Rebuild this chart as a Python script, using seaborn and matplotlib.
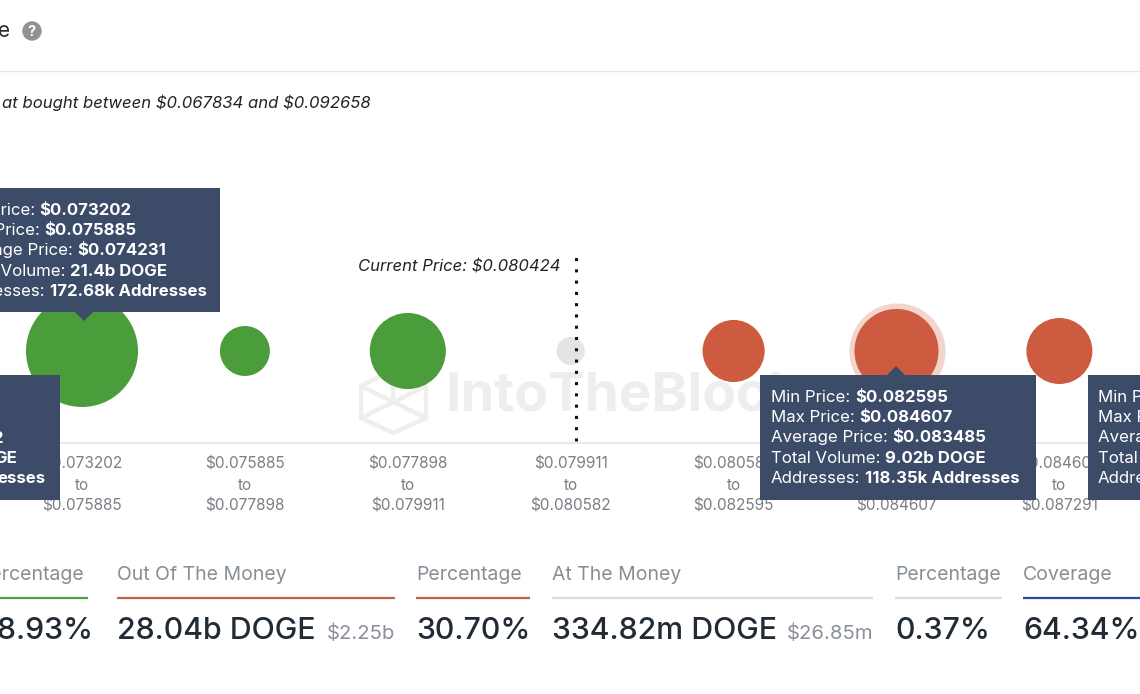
import matplotlib
matplotlib.use("Agg")
import matplotlib.pyplot as plt
import numpy as np
import pandas as pd
import seaborn as sns

# bins of the in/out of the money chart
bin_low = ["$0.073202", "$0.075885", "$0.077898", "$0.079911", "$0.080582", "$0.082595", "$0.084607"]
bin_high = ["$0.075885", "$0.077898", "$0.079911", "$0.080582", "$0.082595", "$0.084607", "$0.087291"]
volume_b = [21.4, 1.88, 6.68, 0.33, 3.62, 9.02, 4.35]
zone = ["in", "in", "in", "at", "out", "out", "out"]

tip_labels = ["Min Price:", "Max Price:", "Average Price:", "Total Volume:", "Addresses:"]
tip_left_values = ["$0.073202", "$0.075885", "$0.074231", "21.4b DOGE", "172.68k Addresses"]
tip_right_values = ["$0.082595", "$0.084607", "$0.083485", "9.02b DOGE", "118.35k Addresses"]
tip_cut_fragments = ["2", "GE", "esses"]

stat_titles = ["Percentage", "Out Of The Money", "Percentage", "At The Money", "Percentage", "Coverage"]
stat_values = ["68.93%", "28.04b DOGE", "30.70%", "334.82m DOGE", "0.37%", "64.34%"]
stat_usd = ["", "$2.25b", "", "$26.85m", "", ""]
stat_kind = ["in", "out", "out", "at", "at", "cov"]

colors = {"in": "#4a9d3a", "out": "#cd5b3f", "at": "#e4e4e4"}
rule_colors = {"in": "#4f9d45", "out": "#bf5f4c", "at": "#dcdcdc", "cov": "#2b45a8"}
TIP_BG = "#3b4b68"

sns.set_theme(style="white")
plt.rcParams["font.family"] = ["Inter", "DejaVu Sans"]
plt.rcParams["text.parse_math"] = False

fig = plt.figure(figsize=(11.4, 6.94), dpi=100)
W, H = 1140, 694

# watermark sits under the bubbles
bg = fig.add_axes([0, 0, 1, 1], zorder=0)
bg.set_xlim(0, W)
bg.set_ylim(H, 0)
bg.axis("off")
wm = "#eeeeee"
bg.text(445, 396, "IntoTheBlock", fontsize=39.5, weight="bold", color=wm, va="center", ha="left")
hex_x = np.array([393, 426, 426, 393, 361, 361, 393])
hex_y = np.array([370, 386, 418, 433, 418, 386, 370])
bg.plot(hex_x, hex_y, color=wm, lw=3.2)
bg.plot([361, 426], [386, 418], color=wm, lw=3.2)
bg.plot([361, 426], [418, 386], color=wm, lw=3.2)
bg.plot([393, 393], [370, 402], color=wm, lw=3.2)

# bubbles, on a bin index axis
ax = fig.add_axes([0, 1 - 443 / H, 1, 293 / H], zorder=1)
ax.patch.set_alpha(0)
df = pd.DataFrame({"bin": range(len(volume_b)), "volume": volume_b, "zone": zone})
# bubble radius grows with volume, in pixels
df["radius"] = 56 * (df["volume"] / 21.4) ** 0.332
df["area"] = (2 * df["radius"] * 0.72) ** 2

hover = df[df["volume"] == 9.02]
sns.scatterplot(data=hover, x="bin", y=0, color="#f3d5cd", s=(2 * 48 * 0.72) ** 2, linewidth=0, ax=ax, legend=False)
sns.scatterplot(data=df, x="bin", y=0, hue="zone", palette=colors, s=df["area"].values, linewidth=0, ax=ax,
                legend=False, zorder=3)

ax.set_xlim(-82 / 162.9, (W - 82) / 162.9)
ax.set_ylim(-92, 201)
ax.set_xticks(df["bin"])
ax.set_xticklabels([f"{a}\nto\n{b}" for a, b in zip(bin_low, bin_high)], color="#7a7f85", fontsize=11.1,
                   linespacing=1.48)
ax.tick_params(axis="x", length=0, pad=10)
ax.set_yticks([])
ax.set_xlabel("")
ax.set_ylabel("")
sns.despine(ax=ax, left=True)
ax.spines["bottom"].set_color("#dfe5ec")
ax.spines["bottom"].set_linewidth(1.2)

# current price marker
ax.plot([3.03, 3.03], [-90, 94], color="#111111", lw=2.2, ls=(0, (1, 2.69)), zorder=4)

# page furniture and tooltips in pixel coordinates
ov = fig.add_axes([0, 0, 1, 1], zorder=5)
ov.patch.set_alpha(0)
ov.set_xlim(0, W)
ov.set_ylim(H, 0)
ov.axis("off")

# header
ov.text(-2, 31, "e", fontsize=15, color="#212b36", va="center", ha="left")
ov.add_patch(plt.Circle((32, 31), 9.7, color="#929292", lw=0))
ov.text(32, 31.5, "?", fontsize=10.5, color="white", weight="bold", va="center", ha="center")
ov.plot([0, W], [70.5, 70.5], color="#e6e6e6", lw=1)
ov.text(371, 103, "at bought between $0.067834 and $0.092658", fontsize=12.0, style="italic", color="#222222",
        va="center", ha="right")
ov.text(560, 267, "Current Price: $0.080424", fontsize=12.0, style="italic", color="#222222", va="center", ha="right")

renderer = fig.canvas.get_renderer()


def tooltip(x0, x1, y0, y1, pointer_x, pointer_dir):
    ov.fill([x0, x1, x1, x0], [y0, y0, y1, y1], color=TIP_BG, lw=0, zorder=6)
    if pointer_dir == "down":
        ov.fill([pointer_x - 9, pointer_x + 9, pointer_x], [y1, y1, y1 + 9], color=TIP_BG, lw=0, zorder=6)
    elif pointer_dir == "up":
        ov.fill([pointer_x - 9, pointer_x + 9, pointer_x], [y0, y0, y0 - 9], color=TIP_BG, lw=0, zorder=6)


def tip_lines(x, y, labels, values):
    for i, (label, value) in enumerate(zip(labels, values)):
        yy = y + i * 20.4
        t = ov.text(x, yy, label, fontsize=12.1, color="white", va="center", ha="left", zorder=7)
        end = t.get_window_extent(renderer).x1
        ov.text(end + 4.5, yy, value, fontsize=12.1, color="white", weight="bold", va="center", ha="left", zorder=7)


tooltip(-55, 220, 188, 312, 84, "down")
tip_lines(-44, 210, tip_labels, tip_left_values)

tooltip(-220, 60, 375, 500, None, None)
for i, (frag, right) in enumerate(zip(tip_cut_fragments, [3, 17, 46])):
    ov.text(right, 438 + i * 20, frag, fontsize=12.1, color="white", weight="bold", va="center", ha="right", zorder=7)

tooltip(760, 1036, 375, 500, 896, "up")
tip_lines(771, 397, tip_labels, tip_right_values)

tooltip(1088, 1300, 375, 500, None, None)
tip_lines(1098, 397, tip_labels, [""] * 5)

# stats row
stat_x = [-22, 117, 416, 552, 895, 1023]
stat_end = [88, 395, 530, 873, 1002, 1140]
for title, value, usd, kind, x, end in zip(stat_titles, stat_values, stat_usd, stat_kind, stat_x, stat_end):
    ov.text(x, 575, title, fontsize=14, color="#868e96", va="center", ha="left")
    ov.plot([x, end], [598, 598], color=rule_colors[kind], lw=1.6, solid_capstyle="butt")
    ov.text(x, 631, value, fontsize=21.8, weight="medium", color="#212b36", va="center", ha="left")
    if usd:
        ov.text(end, 634, usd, fontsize=14.6, color="#8a9099", va="center", ha="right")

fig.savefig("out.png", dpi=100)
